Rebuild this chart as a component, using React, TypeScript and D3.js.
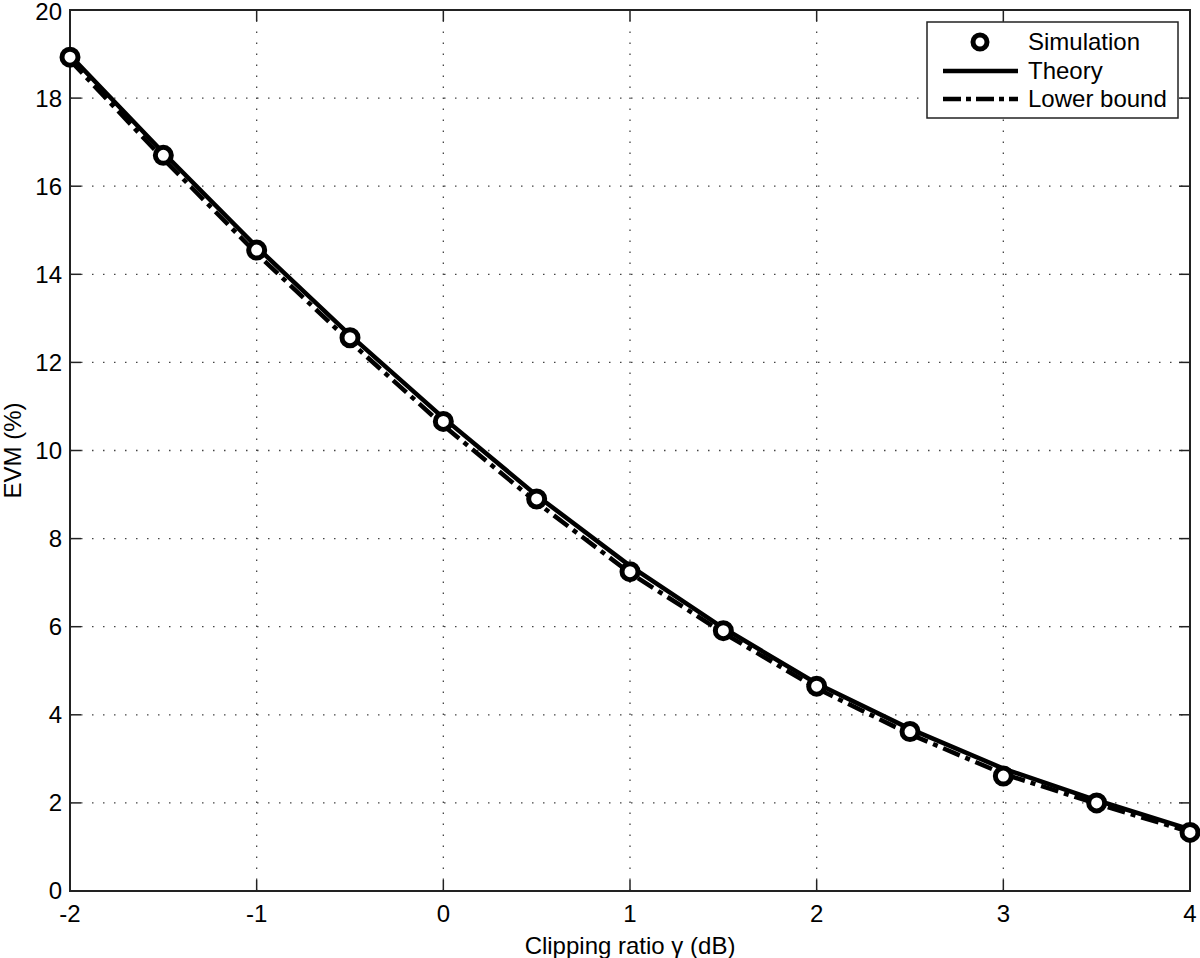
import React, { useRef, useEffect } from 'react';
import * as d3 from 'd3';

// clipping ratio (dB)
const gammaDb = [-2, -1.5, -1, -0.5, 0, 0.5, 1, 1.5, 2, 2.5, 3, 3.5, 4];
const simulation = [18.93, 16.7, 14.55, 12.56, 10.66, 8.9, 7.25, 5.91, 4.65, 3.62, 2.61, 2.0, 1.33];
const theory = [18.97, 16.76, 14.62, 12.62, 10.74, 8.98, 7.38, 5.97, 4.71, 3.68, 2.78, 2.06, 1.4];
const lowerBound = [18.86, 16.62, 14.47, 12.47, 10.57, 8.82, 7.22, 5.86, 4.6, 3.56, 2.66, 1.98, 1.34];
const xTicks = [-2, -1, 0, 1, 2, 3, 4];
const yTicks = [0, 2, 4, 6, 8, 10, 12, 14, 16, 18, 20];

const W = 1200;
const H = 958;
const FONT = '"Liberation Sans", Arial, Helvetica, sans-serif';

const App = () => {
  const ref = useRef<SVGSVGElement>(null);

  useEffect(() => {
    const svg = d3.select(ref.current);
    svg.selectAll('*').remove();

    const left = 70, right = 1190, top = 10, bottom = 891;
    const x = d3.scaleLinear().domain([-2, 4]).range([left, right]);
    const y = d3.scaleLinear().domain([0, 20]).range([bottom, top]);
    const tickLen = 11;

    svg.append('rect').attr('width', W).attr('height', H).attr('fill', '#fff');

    // dotted grid
    const grid = svg.append('g')
      .attr('stroke', '#444')
      .attr('stroke-width', 1.3)
      .attr('stroke-dasharray', '1.5 9.5');
    grid.selectAll('.gx')
      .data(xTicks.slice(1, -1))
      .join('line')
      .attr('x1', d => x(d)).attr('x2', d => x(d))
      .attr('y1', bottom).attr('y2', top);
    grid.selectAll('.gy')
      .data(yTicks.slice(1, -1))
      .join('line')
      .attr('y1', d => y(d)).attr('y2', d => y(d))
      .attr('x1', left).attr('x2', right);

    // ticks (inward, all four sides)
    const ticks = svg.append('g').attr('stroke', '#222').attr('stroke-width', 1.5);
    xTicks.forEach(v => {
      ticks.append('line').attr('x1', x(v)).attr('x2', x(v)).attr('y1', bottom).attr('y2', bottom - tickLen);
      ticks.append('line').attr('x1', x(v)).attr('x2', x(v)).attr('y1', top).attr('y2', top + tickLen);
    });
    yTicks.forEach(v => {
      ticks.append('line').attr('y1', y(v)).attr('y2', y(v)).attr('x1', left).attr('x2', left + tickLen);
      ticks.append('line').attr('y1', y(v)).attr('y2', y(v)).attr('x1', right).attr('x2', right - tickLen);
    });

    // frame
    svg.append('rect')
      .attr('x', left).attr('y', top)
      .attr('width', right - left).attr('height', bottom - top)
      .attr('fill', 'none').attr('stroke', '#222').attr('stroke-width', 2);

    // tick labels
    svg.append('g')
      .selectAll('text')
      .data(xTicks)
      .join('text')
      .attr('x', d => x(d))
      .attr('y', bottom + 31)
      .attr('text-anchor', 'middle')
      .attr('font-family', FONT)
      .attr('font-size', 24)
      .text(d => String(d));
    svg.append('g')
      .selectAll('text')
      .data(yTicks)
      .join('text')
      .attr('x', left - 8)
      .attr('y', d => Math.max(y(d), 12))
      .attr('dy', '0.35em')
      .attr('text-anchor', 'end')
      .attr('font-family', FONT)
      .attr('font-size', 24)
      .text(d => String(d));

    // axis titles
    svg.append('text')
      .attr('x', (left + right) / 2)
      .attr('y', 954)
      .attr('text-anchor', 'middle')
      .attr('font-family', FONT)
      .attr('font-size', 24)
      .text('Clipping ratio γ (dB)');
    svg.append('text')
      .attr('transform', `translate(21,${(top + bottom) / 2}) rotate(-90)`)
      .attr('text-anchor', 'middle')
      .attr('font-family', FONT)
      .attr('font-size', 24)
      .text('EVM (%)');

    const lineGen = (vals: number[]) =>
      d3.line<number>()
        .x((d, i) => x(gammaDb[i]))
        .y(d => y(d))(vals);

    svg.append('path')
      .attr('d', lineGen(lowerBound))
      .attr('fill', 'none')
      .attr('stroke', '#000')
      .attr('stroke-width', 4.5)
      .attr('stroke-dasharray', '18 6 5 6');
    svg.append('path')
      .attr('d', lineGen(theory))
      .attr('fill', 'none')
      .attr('stroke', '#000')
      .attr('stroke-width', 4.5);

    svg.append('g')
      .selectAll('circle')
      .data(simulation)
      .join('circle')
      .attr('cx', (d, i) => x(gammaDb[i]))
      .attr('cy', d => y(d))
      .attr('r', 8)
      .attr('fill', '#fff')
      .attr('stroke', '#000')
      .attr('stroke-width', 5);

    // legend
    const lg = svg.append('g');
    lg.append('rect')
      .attr('x', 927).attr('y', 22)
      .attr('width', 251).attr('height', 96)
      .attr('fill', '#fff').attr('stroke', '#222').attr('stroke-width', 1.5);
    const items = [
      { label: 'Simulation', kind: 'marker', yy: 42 },
      { label: 'Theory', kind: 'solid', yy: 71 },
      { label: 'Lower bound', kind: 'dashdot', yy: 99 },
    ];
    items.forEach(it => {
      if (it.kind === 'marker') {
        lg.append('circle').attr('cx', 980).attr('cy', it.yy).attr('r', 7)
          .attr('fill', '#fff').attr('stroke', '#000').attr('stroke-width', 5);
      } else {
        lg.append('line')
          .attr('x1', 943).attr('x2', 1018)
          .attr('y1', it.yy).attr('y2', it.yy)
          .attr('stroke', '#000').attr('stroke-width', 4.5)
          .attr('stroke-dasharray', it.kind === 'dashdot' ? '18 5 5 5' : null);
      }
      lg.append('text')
        .attr('x', 1028).attr('y', it.yy)
        .attr('dy', '0.35em')
        .attr('font-family', FONT)
        .attr('font-size', 24)
        .text(it.label);
    });
  }, []);

  return (
    <svg ref={ref} width={W} height={H}
      style={{ position: 'absolute', left: 0, top: 0, display: 'block' }} />
  );
};

export default App;
